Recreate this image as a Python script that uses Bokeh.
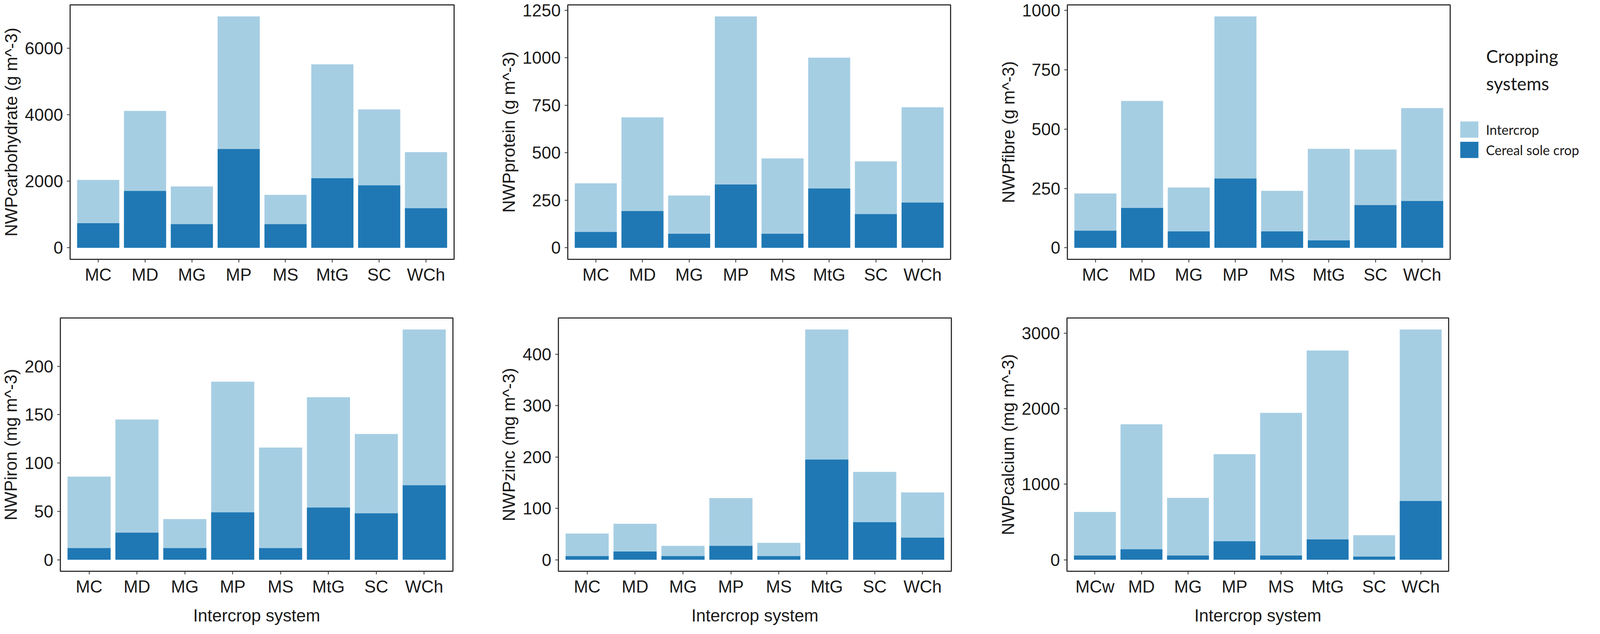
from bokeh.plotting import figure
from bokeh.models import Range1d, FixedTicker, Legend, LegendItem, Label, ColumnDataSource
from bokeh.layouts import row, column
from bokeh.embed import file_html
from bokeh.resources import INLINE

# ---------------- data ----------------
categories = ["MC", "MD", "MG", "MP", "MS", "MtG", "SC", "WCh"]
categories_calcium = ["MCw", "MD", "MG", "MP", "MS", "MtG", "SC", "WCh"]

carb_intercrop = [2040, 4115, 1845, 6955, 1590, 5515, 4160, 2875]
carb_sole = [740, 1710, 710, 2970, 710, 2090, 1875, 1190]

protein_intercrop = [339, 686, 275, 1217, 470, 1000, 455, 739]
protein_sole = [83, 193, 74, 333, 74, 312, 177, 238]

fibre_intercrop = [229, 619, 254, 975, 240, 417, 414, 589]
fibre_sole = [72, 168, 69, 292, 69, 31, 180, 197]

iron_intercrop = [86, 145, 42, 184, 116, 168, 130, 238]
iron_sole = [12, 28, 12, 49, 12, 54, 48, 77]

zinc_intercrop = [51, 70, 27, 120, 33, 448, 171, 131]
zinc_sole = [7, 16, 7, 27, 7, 195, 73, 43]

calcium_intercrop = [633, 1792, 819, 1397, 1944, 2769, 325, 3047]
calcium_sole = [56, 139, 56, 244, 56, 269, 42, 778]

carb_ticks = [0, 2000, 4000, 6000]
protein_ticks = [0, 250, 500, 750, 1000, 1250]
fibre_ticks = [0, 250, 500, 750, 1000]
iron_ticks = [0, 50, 100, 150, 200]
zinc_ticks = [0, 100, 200, 300, 400]
calcium_ticks = [0, 1000, 2000, 3000]

series_names = ["Intercrop", "Cereal sole crop"]
legend_title = ["Cropping", "systems"]
x_title = "Intercrop system"

# ---------------- style ----------------
LIGHT = "#a6cee3"
DARK = "#1f78b4"
FONT = "Liberation Sans"
LFONT = "Lato"
TXT = "#1a1a1a"
FRAME = "#333333"


def make_panel(cats, inter, sole, ylabel, yticks, xlabel,
               left, fw, right, top, fh, bottom):
    ymax = max(inter)
    n = len(cats)
    p = figure(frame_width=fw, frame_height=fh,
               min_border_left=left, min_border_right=right,
               min_border_top=top, min_border_bottom=bottom,
               x_range=Range1d(0.4, n + 0.6),
               y_range=Range1d(-0.05 * ymax, 1.05 * ymax),
               output_backend="svg", toolbar_location=None, tools="")
    xs = list(range(1, n + 1))
    src = ColumnDataSource(dict(x=xs, cat=cats, inter=inter, sole=sole))
    p.vbar(x="x", top="inter", bottom=0, width=0.9, source=src,
           fill_color=LIGHT, line_color=None)
    p.vbar(x="x", top="sole", bottom=0, width=0.9, source=src,
           fill_color=DARK, line_color=None)

    p.grid.visible = False
    p.background_fill_color = "white"
    p.border_fill_color = "white"
    p.outline_line_color = FRAME
    p.outline_line_width = 3
    p.outline_line_alpha = 1

    p.xaxis.ticker = FixedTicker(ticks=xs)
    p.xaxis.major_label_overrides = {x: c for x, c in zip(xs, cats)}
    p.yaxis.ticker = FixedTicker(ticks=yticks)

    for ax in (p.xaxis[0], p.yaxis[0]):
        ax.axis_line_color = None
        ax.major_tick_line_color = FRAME
        ax.major_tick_line_width = 2
        ax.major_tick_in = 0
        ax.major_tick_out = 8
        ax.minor_tick_line_color = None
        ax.major_label_text_font = FONT
        ax.major_label_text_font_size = "44px"
        ax.major_label_text_color = TXT
        ax.axis_label_text_font = FONT
        ax.axis_label_text_font_size = "44px"
        ax.axis_label_text_font_style = "normal"
        ax.axis_label_text_color = TXT
    p.yaxis.major_label_standoff = 10
    p.yaxis.axis_label_standoff = 8
    p.yaxis.axis_label = ylabel
    p.xaxis.major_label_standoff = 6
    if xlabel:
        p.xaxis.axis_label = xlabel
        p.xaxis.axis_label_standoff = 22
    return p


# row 1: frame top 12, frame height 651, row height 790
p1 = make_panel(categories, carb_intercrop, carb_sole,
                "NWPcarbohydrate (g m^-3)", carb_ticks, None,
                178, 983, 15, 12, 651, 127)
p2 = make_panel(categories, protein_intercrop, protein_sole,
                "NWPprotein (g m^-3)", protein_ticks, None,
                276, 980, 15, 12, 651, 127)
p3 = make_panel(categories, fibre_intercrop, fibre_sole,
                "NWPfibre (g m^-3)", fibre_ticks, None,
                284, 980, 10, 12, 651, 127)
# row 2: frame top 23, frame height 648, row height 816
p4 = make_panel(categories, iron_intercrop, iron_sole,
                "NWPiron (mg m^-3)", iron_ticks, x_title,
                154, 1005, 15, 23, 648, 145)
p5 = make_panel(categories, zinc_intercrop, zinc_sole,
                "NWPzinc (mg m^-3)", zinc_ticks, x_title,
                255, 1006, 15, 23, 648, 145)
p6 = make_panel(categories_calcium, calcium_intercrop, calcium_sole,
                "NWPcalcium (mg m^-3)", calcium_ticks, x_title,
                281, 977, 10, 23, 648, 145)

# ---------------- legend panel (right of the top row) ----------------
pl = figure(frame_width=355, frame_height=690, min_border=0,
            min_border_bottom=100,
            x_range=Range1d(20, 21), y_range=Range1d(0, 1),
            x_axis_location=None, y_axis_location=None,
            output_backend="svg", toolbar_location=None, tools="")
pl.grid.visible = False
pl.outline_line_color = None
pl.background_fill_color = "white"
pl.border_fill_color = "white"
# key renderers: zero-area bars on the fibre series (nothing drawn, only keys)
key_src = ColumnDataSource(dict(x=list(range(1, len(categories) + 1)),
                                inter=fibre_intercrop, sole=fibre_sole))
k1 = pl.vbar(x="x", top="inter", bottom="inter", width=0, source=key_src,
             fill_color=LIGHT, line_color=None)
k2 = pl.vbar(x="x", top="sole", bottom="sole", width=0, source=key_src,
             fill_color=DARK, line_color=None)

legend = Legend(items=[LegendItem(label=series_names[0], renderers=[k1]),
                       LegendItem(label=series_names[1], renderers=[k2])],
                location="center_left", orientation="vertical",
                glyph_width=58, glyph_height=52, label_height=52,
                spacing=0, label_standoff=14, padding=0, margin=10,
                border_line_color=None, background_fill_alpha=0,
                label_text_font=LFONT, label_text_font_size="34px",
                label_text_color=TXT, label_text_baseline="middle")
pl.add_layout(legend)
for txt, yy in zip(legend_title, (559, 489)):
    pl.add_layout(Label(x=82, y=yy, x_units="screen", y_units="screen",
                        text=txt, text_font=LFONT, text_font_size="46px",
                        text_color=TXT, text_baseline="middle"))

layout = column(row(p1, p2, p3, pl), row(p4, p5, p6))
open("out.html", "w").write(file_html(layout, INLINE))
